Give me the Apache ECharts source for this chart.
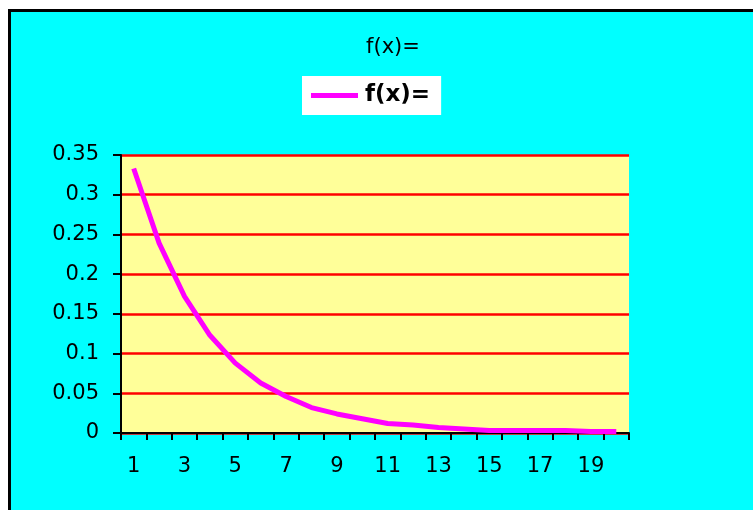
<!DOCTYPE html>
<html>
<head>
<meta charset="utf-8">
<script src="https://cdn.jsdelivr.net/npm/echarts@6/dist/echarts.min.js"></script>
<style>
html,body{margin:0;padding:0;background:#ffffff;}
#chart{width:753px;height:510px;}
</style>
</head>
<body>
<div id="chart"></div>
<script>
var titleText = 'f(x)=';
var seriesName = 'f(x)=';
var categories = ['1','2','3','4','5','6','7','8','9','10','11','12','13','14','15','16','17','18','19','20'];
var values = [0.333, 0.239, 0.172, 0.123, 0.088, 0.063, 0.046, 0.032, 0.024, 0.018, 0.012, 0.010, 0.007, 0.005, 0.003, 0.003, 0.003, 0.003, 0.002, 0.002];
var yMin = 0, yMax = 0.35, yStep = 0.05;

var chart = echarts.init(document.getElementById('chart'), null, {renderer:'canvas'});
var font = 'DejaVu Sans';
chart.setOption({
  animation: false,
  backgroundColor: '#ffffff',
  graphic: [{
    type: 'rect', z: -10, silent: true,
    shape: {x: 9.5, y: 10.5, width: 800, height: 600},
    style: {fill: '#00FFFF', stroke: '#000000', lineWidth: 3}
  }],
  title: {
    text: titleText,
    left: 388, top: 32, textAlign: 'center',
    textStyle: {fontFamily: font, fontSize: 21, fontWeight: 'normal', color: '#000000', lineHeight: 21}
  },
  legend: {
    left: 302, top: 76,
    backgroundColor: '#ffffff',
    padding: [8, 11, 8, 9],
    itemWidth: 47, itemHeight: 5,
    data: [{name: seriesName, icon: 'rect'}],
    textStyle: {fontFamily: font, fontSize: 23, fontWeight: 'bold', color: '#000000', lineHeight: 23, padding: [0,0,0,2]}
  },
  grid: {
    left: 121, top: 155, right: 124, bottom: 77,
    show: true, backgroundColor: '#FFFF99', borderWidth: 0,
    containLabel: false
  },
  xAxis: {
    type: 'category',
    data: categories,
    boundaryGap: true,
    axisLine: {show: true, lineStyle: {color: '#000000', width: 2}},
    axisTick: {show: true, interval: 0, length: 7, lineStyle: {color: '#000000', width: 2}},
    axisLabel: {interval: 1, margin: 23, fontFamily: font, fontSize: 21, color: '#000000', lineHeight: 21},
    splitLine: {show: false}
  },
  yAxis: {
    type: 'value',
    min: yMin, max: yMax, interval: yStep,
    axisLine: {show: true, lineStyle: {color: '#000000', width: 2}},
    axisTick: {show: true, length: 8, lineStyle: {color: '#000000', width: 2}},
    axisLabel: {margin: 22, fontFamily: font, fontSize: 21, color: '#000000',
      formatter: function(v){ return String(+v.toFixed(2)); }},
    splitLine: {show: true, lineStyle: {color: '#FF0000', width: 2.5}}
  },
  series: [{
    name: seriesName,
    type: 'line',
    data: values,
    symbol: 'none',
    smooth: false,
    color: '#FF00FF',
    lineStyle: {color: '#FF00FF', width: 5},
    itemStyle: {color: '#FF00FF'}
  }]
});
</script>
</body>
</html>
